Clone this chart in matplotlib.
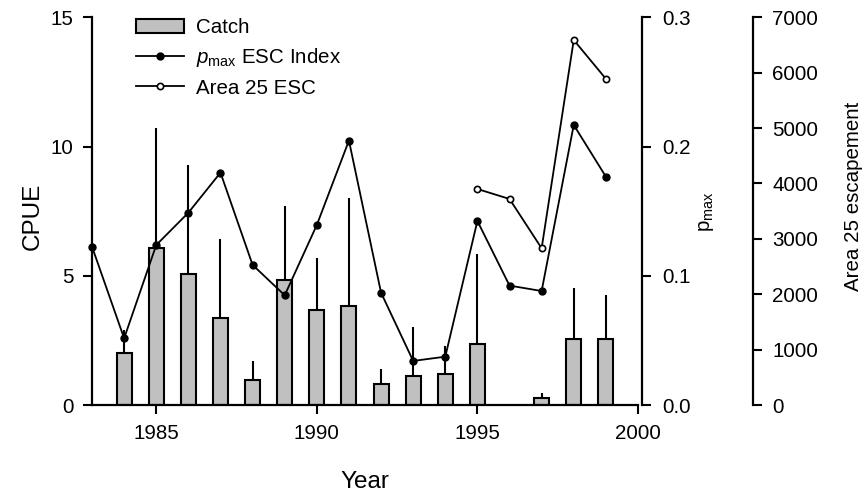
import matplotlib
matplotlib.use('Agg')
import matplotlib.pyplot as plt
import numpy as np

plt.rcParams['font.family'] = ['Liberation Sans', 'DejaVu Sans']
plt.rcParams['mathtext.fontset'] = 'custom'
plt.rcParams['mathtext.rm'] = 'Liberation Sans'
plt.rcParams['mathtext.it'] = 'Liberation Sans:italic'
plt.rcParams['mathtext.bf'] = 'Liberation Sans:bold'

# ---- data ----
catch_years = [1984, 1985, 1986, 1987, 1988, 1989, 1990, 1991, 1992, 1993, 1994, 1995, 1997, 1998, 1999]
catch_cpue = [2.00, 6.09, 5.08, 3.37, 0.98, 4.85, 3.68, 3.83, 0.82, 1.13, 1.21, 2.37, 0.28, 2.54, 2.54]
catch_upper = [2.92, 10.72, 9.27, 6.41, 1.69, 7.70, 5.70, 8.02, 1.38, 3.00, 2.30, 5.86, 0.45, 4.54, 4.24]

pmax_years = [1983, 1984, 1985, 1986, 1987, 1988, 1989, 1990, 1991, 1992, 1993, 1994, 1995, 1996, 1997, 1998, 1999]
pmax_values = [0.1225, 0.0516, 0.1238, 0.1488, 0.1798, 0.1084, 0.0849, 0.1393, 0.2046, 0.0869,
               0.0341, 0.0374, 0.1424, 0.0924, 0.0882, 0.2167, 0.1767]

esc_years = [1995, 1996, 1997, 1998, 1999]
esc_values = [3900, 3720, 2830, 6590, 5890]

x_ticks = [1985, 1990, 1995, 2000]
cpue_ticks = [0, 5, 10, 15]
pmax_ticks = [0.0, 0.1, 0.2, 0.3]
esc_ticks = [0, 1000, 2000, 3000, 4000, 5000, 6000, 7000]

FS = 14.8
LFS = 17.5

fig = plt.figure(figsize=(8.64, 4.97), dpi=100)
ax = fig.add_axes([0.1065, 0.1851, 0.6319, 0.7801])

cpue = np.array(catch_cpue)
upper = np.array(catch_upper)
bars = ax.bar(catch_years, cpue, width=0.47, color='#c0c0c0', edgecolor='black',
              linewidth=1.5, label='Catch', zorder=2)
ax.errorbar(catch_years, cpue, yerr=[np.zeros_like(cpue), upper - cpue], fmt='none',
            ecolor='black', elinewidth=1.5, capsize=0, zorder=1)
ax.set_xlim(1983, 2000)
ax.set_ylim(0, 15)
ax.set_xticks(x_ticks)
ax.set_yticks(cpue_ticks)
for s in ['top', 'right']:
    ax.spines[s].set_visible(False)
for s in ['left', 'bottom']:
    ax.spines[s].set_linewidth(1.6)
ax.tick_params(direction='out', length=6.5, width=1.5, labelsize=FS, pad=7)
ax.set_xlabel('Year', fontsize=LFS)
ax.set_ylabel('CPUE', fontsize=LFS)
ax.xaxis.set_label_coords(0.5, -0.198)
ax.xaxis.label.set_va('center')
ax.yaxis.set_label_coords(-0.108, 0.4875)
ax.yaxis.label.set_va('center')

ax2 = ax.twinx()
ax2.set_ylim(0, 0.3)
ax2.set_yticks(pmax_ticks)
ax2.set_yticklabels(['%.1f' % t for t in pmax_ticks])
l2, = ax2.plot(pmax_years, pmax_values, color='black', lw=1.3, marker='o', ms=5,
               clip_on=False, label=r'$p_{\mathrm{max}}$ ESC Index')
for s in ['top', 'left', 'bottom']:
    ax2.spines[s].set_visible(False)
ax2.spines['right'].set_linewidth(1.6)
ax2.spines['right'].set_position(('outward', 2.7))
ax2.tick_params(direction='out', length=6.5, width=1.5, labelsize=FS, pad=8)
ax2.set_ylabel(r'p$_{\mathrm{max}}$', fontsize=FS)
ax2.yaxis.set_label_coords(1.1264, 0.4978)
ax2.yaxis.label.set_va('center')

ax3 = ax.twinx()
ax3.set_ylim(0, 7000)
ax3.set_yticks(esc_ticks)
l3, = ax3.plot(esc_years, esc_values, color='black', lw=1.3, marker='o', ms=4.5,
               mfc='white', mec='black', mew=1.2, clip_on=False, label='Area 25 ESC')
for s in ['top', 'left', 'bottom']:
    ax3.spines[s].set_visible(False)
ax3.spines['right'].set_linewidth(1.6)
ax3.spines['right'].set_position(('outward', 83))
ax3.tick_params(direction='out', length=6.5, width=1.5, labelsize=FS, pad=7)
ax3.set_ylabel('Area 25 escapement', fontsize=FS)
ax3.yaxis.set_label_coords(1.3956, 0.539)
ax3.yaxis.label.set_va('center')

fig.legend([bars, l2, l3], ['Catch', r'$p_{\mathrm{max}}$ ESC Index', 'Area 25 ESC'],
           loc='upper left', bbox_to_anchor=(135.7 / 864, 1 - 18 / 497),
           bbox_transform=fig.transFigure, frameon=False, fontsize=FS,
           borderpad=0, borderaxespad=0, handlelength=2.35, handletextpad=0.6,
           labelspacing=0.45)

fig.savefig('out.png', dpi=100)
